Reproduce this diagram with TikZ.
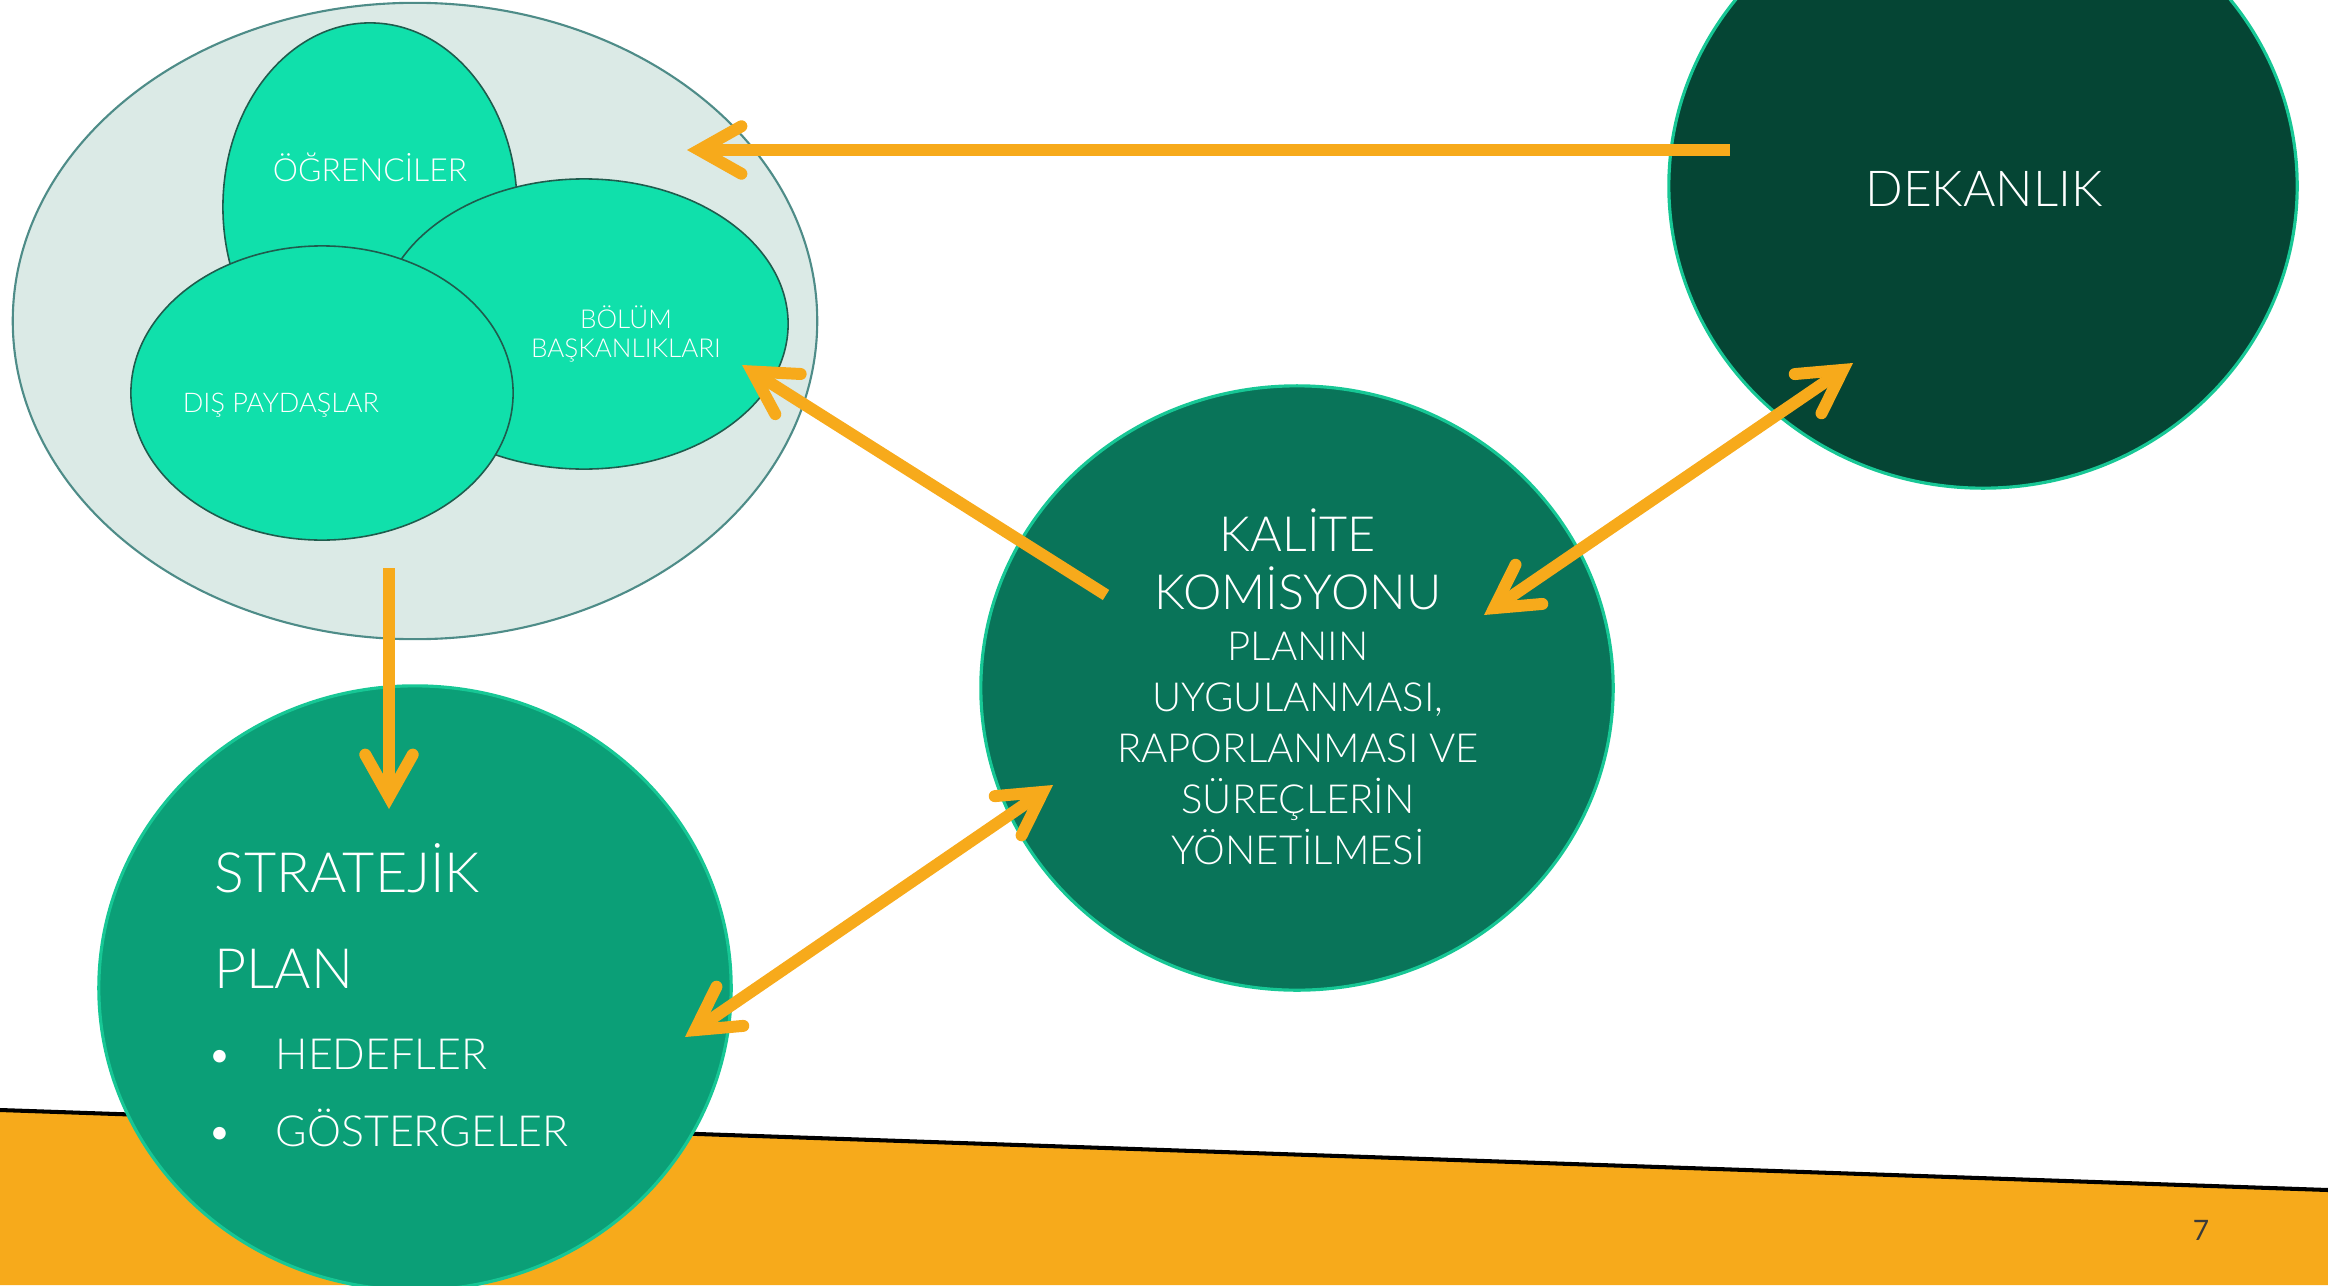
\documentclass[tikz,border=0pt]{standalone}
\usepackage{fontspec}
\setmainfont{Lato}[UprightFont=* Light]
\newfontfamily\regfont{Lato}
\usetikzlibrary{shapes.geometric,arrows.meta}
\definecolor{bigfill}{HTML}{DBEAE6}
\definecolor{bigline}{HTML}{4E8C88}
\definecolor{mint}{HTML}{10E0AB}
\definecolor{mintline}{HTML}{1F5C4D}
\definecolor{dekan}{HTML}{054534}
\definecolor{kalite}{HTML}{097459}
\definecolor{strat}{HTML}{0B9F77}
\definecolor{rim}{HTML}{17C795}
\definecolor{orng}{HTML}{F7AA1B}
\definecolor{pagenum}{HTML}{3A3A3A}
\tikzset{
  blob/.style={ellipse, inner sep=0pt, outer sep=0pt},
  outerblob/.style={blob, fill=bigfill, draw=bigline, line width=0.6pt},
  minty/.style={blob, fill=mint, draw=mintline, line width=0.45pt},
  bigcirc/.style={blob, draw=rim, line width=0.9pt},
  lbl/.style={text=white, inner sep=0pt, anchor=base},
  barb/.tip={Straight Barb[length=12pt, width=13.5pt, line cap=round, line join=miter]},
  flow/.style={draw=orng, line width=3.4pt},
}
\begin{document}
\begin{tikzpicture}[x=0.01cm, y=-0.01cm]
\useasboundingbox (0,0) rectangle (2328,1285);
\clip (0,0) rectangle (2328,1285);
% bottom band
\fill[orng] (0,1110) -- (2328,1190) -- (2328,1285) -- (0,1285) -- cycle;
\draw[black, line width=1.15pt] (0,1110) -- (2328,1190);
% stakeholder cluster
\node[outerblob, minimum width=8.04cm, minimum height=6.36cm] (grp) at (415,321) {};
\node[minty, minimum width=2.94cm, minimum height=3.68cm] (ogr) at (370,207) {};
\node[minty, minimum width=4.08cm, minimum height=2.90cm] (bol) at (584,324) {};
\node[minty, minimum width=3.82cm, minimum height=2.94cm] (dis) at (322,393) {};
% big circles
\node[bigcirc, fill=dekan, minimum width=6.28cm, minimum height=6.04cm] (dek) at (1983,186) {};
\node[bigcirc, fill=kalite, minimum width=6.32cm, minimum height=6.04cm] (kal) at (1297,688) {};
\node[bigcirc, fill=strat, minimum width=6.32cm, minimum height=6.04cm] (str) at (415,988) {};
% labels
\node[lbl, font=\fontsize{9.05}{10}\selectfont] (togr) at (370,182) {ÖĞRENCİLER};
\node[lbl, font=\fontsize{7.4}{9}\selectfont] (tbol1) at (626,328) {BÖLÜM};
\node[lbl, font=\fontsize{7.4}{9}\selectfont] (tbol2) at (626,357) {BAŞKANLIKLARI};
\node[lbl, font=\fontsize{7.7}{9}\selectfont] (tdis) at (281,412) {DIŞ PAYDAŞLAR};
\node[lbl, font=\fontsize{14.1}{16}\selectfont] (tdek) at (1984,206) {DEKANLIK};
\node[lbl, font=\fontsize{13.8}{16}\selectfont] (tkal1) at (1298,551) {KALİTE};
\node[lbl, font=\fontsize{13.8}{16}\selectfont] (tkal2) at (1298,609) {KOMİSYONU};
\node[lbl, font=\fontsize{11.4}{14}\selectfont] (tk3) at (1298,660) {PLANIN};
\node[lbl, font=\fontsize{11.4}{14}\selectfont] (tk4) at (1298,711) {UYGULANMASI,};
\node[lbl, font=\fontsize{11.4}{14}\selectfont] (tk5) at (1298,762) {RAPORLANMASI VE};
\node[lbl, font=\fontsize{11.4}{14}\selectfont] (tk6) at (1298,813) {SÜREÇLERİN};
\node[lbl, font=\fontsize{11.4}{14}\selectfont] (tk7) at (1298,864) {YÖNETİLMESİ};
\node[lbl, anchor=base west, font=\fontsize{15.8}{18}\selectfont] (tstr1) at (214,892) {STRATEJİK};
\node[lbl, anchor=base west, font=\fontsize{15.8}{18}\selectfont] (tstr2) at (214,988) {PLAN};
\node[lbl, font=\fontsize{12.2}{14}\selectfont] (b1) at (220,1069) {•};
\node[lbl, anchor=base west, font=\fontsize{12.2}{14}\selectfont] (th) at (275,1069) {HEDEFLER};
\node[lbl, font=\fontsize{12.2}{14}\selectfont] (b2) at (220,1146) {•};
\node[lbl, anchor=base west, font=\fontsize{12.2}{14}\selectfont] (tg) at (275,1146) {GÖSTERGELER};
\node[inner sep=0pt, anchor=base, text=pagenum, font=\regfont\fontsize{8}{9}\selectfont] (pg) at (2201,1240) {7};
% connector end points
\coordinate (a1s) at (1730,150);
\coordinate (a1e) at (687,150);
\coordinate (a2s) at (1106,595);
\coordinate (a2e) at (742,365);
\coordinate (a3s) at (389,568);
\coordinate (a3e) at (389,809);
\coordinate (a4s) at (685,1037);
\coordinate (a4e) at (1053,785);
\coordinate (a5s) at (1484,615);
\coordinate (a5e) at (1853,363);
% connectors
\draw[flow, -barb] (a1s) -- (a1e);
\draw[flow, -barb] (a2s) -- (a2e);
\draw[flow, -barb] (a3s) -- (a3e);
\draw[flow, barb-barb] (a4s) -- (a4e);
\draw[flow, barb-barb] (a5s) -- (a5e);
\end{tikzpicture}
\end{document}
